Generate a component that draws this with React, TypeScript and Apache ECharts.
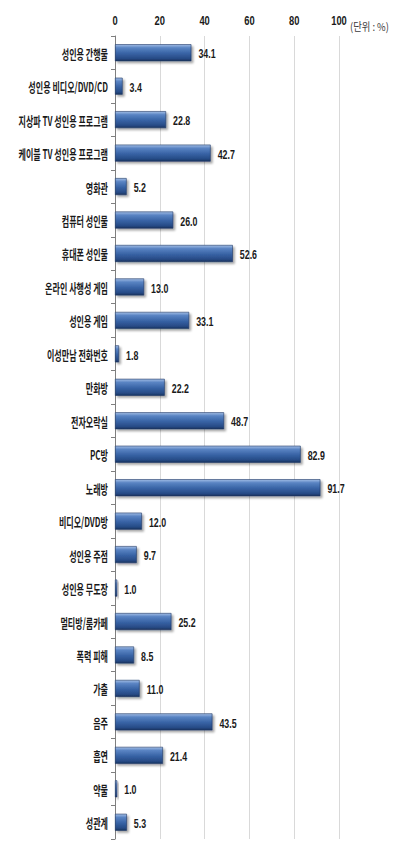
import React, { useEffect, useRef } from "react";
import * as echarts from "echarts";

const categories: string[] = [
  "성인용 간행물",
  "성인용 비디오/DVD/CD",
  "지상파 TV 성인용 프로그램",
  "케이블 TV 성인용 프로그램",
  "영화관",
  "컴퓨터 성인물",
  "휴대폰 성인물",
  "온라인 사행성 게임",
  "성인용 게임",
  "이성만남 전화번호",
  "만화방",
  "전자오락실",
  "PC방",
  "노래방",
  "비디오/DVD방",
  "성인용 주점",
  "성인용 무도장",
  "멀티방/룸카페",
  "폭력 피해",
  "가출",
  "음주",
  "흡연",
  "약물",
  "성관계",
];

const values: number[] = [
  34.1, 3.4, 22.8, 42.7, 5.2, 26.0, 52.6, 13.0, 33.1, 1.8, 22.2, 48.7, 82.9,
  91.7, 12.0, 9.7, 1.0, 25.2, 8.5, 11.0, 43.5, 21.4, 1.0, 5.3,
];

const tickValues: number[] = [0, 20, 40, 60, 80, 100];

const xMin = 0;
const xMax = 100;
const xInterval = 20;
const unitLabel = "(단위 : %)";

const LAT = '"Liberation Sans", Arial, sans-serif';
const KR = '"Noto Sans CJK KR", sans-serif';

export default function App() {
  const ref = useRef<HTMLDivElement>(null);

  useEffect(() => {
    document.body.style.margin = "0";
    if (!ref.current) return;
    const chart = echarts.init(ref.current, undefined, { renderer: "svg" });

    const barGradient = new echarts.graphic.LinearGradient(0, 0, 0, 1, [
      { offset: 0, color: "#A3BEE6" },
      { offset: 0.2, color: "#5A84C3" },
      { offset: 0.55, color: "#3762A4" },
      { offset: 0.85, color: "#274B86" },
      { offset: 1, color: "#19335E" },
    ]);

    chart.setOption({
      animation: false,
      backgroundColor: "#FFFFFF",
      grid: { left: 115, right: 58, top: 36, height: 803, containLabel: false },
      xAxis: {
        type: "value",
        position: "top",
        min: xMin,
        max: xMax,
        interval: xInterval,
        axisLine: { show: false },
        axisTick: { show: false },
        axisLabel: { show: false },
        splitLine: { show: true, lineStyle: { color: "#D9D9D9", width: 1 } },
      },
      yAxis: {
        type: "category",
        data: categories,
        inverse: true,
        axisLine: { show: true, lineStyle: { color: "#7F7F7F", width: 1 } },
        axisTick: { show: true, inside: false, length: 4, lineStyle: { color: "#7F7F7F" } },
        axisLabel: { show: false },
        splitLine: { show: false },
      },
      graphic: [
        {
          type: "text",
          left: 350,
          top: 21,
          scaleX: 0.85,
          style: {
            text: unitLabel,
            fill: "#3A3A3A",
            fontFamily: KR,
            fontSize: 11,
          },
        },
      ],
      series: [
        {
          type: "bar",
          data: values,
          barWidth: 17,
          itemStyle: {
            color: barGradient,
            borderColor: "#1F3864",
            borderWidth: 0.6,
            shadowColor: "rgba(0,0,0,0.35)",
            shadowBlur: 2,
            shadowOffsetX: 2,
            shadowOffsetY: 2,
          },
          label: { show: false },
          z: 3,
        },
        {
          // x-axis tick labels (condensed), placed by the value scale
          type: "custom",
          silent: true,
          clip: false,
          data: tickValues.map((v) => [v, 0]),
          encode: { x: 0, y: 1 },
          renderItem: (params: any, api: any) => {
            const pt = api.coord([api.value(0), 0]);
            return {
              type: "text",
              x: pt[0],
              y: params.coordSys.y - 16,
              scaleX: 0.72,
              style: {
                text: String(tickValues[params.dataIndex]),
                fill: "#1A1A1A",
                fontFamily: LAT,
                fontWeight: "bold",
                fontSize: 13,
                align: "center",
                verticalAlign: "middle",
              },
            };
          },
          z: 4,
        },
        {
          // value labels
          type: "custom",
          silent: true,
          clip: false,
          data: values.map((v, i) => [v, i]),
          encode: { x: 0, y: 1 },
          renderItem: (params: any, api: any) => {
            const pt = api.coord([api.value(0), api.value(1)]);
            return {
              type: "text",
              x: pt[0] + 7,
              y: pt[1] + 1,
              scaleX: 0.68,
              style: {
                text: Number(values[params.dataIndex]).toFixed(1),
                fill: "#1A1A1A",
                fontFamily: LAT,
                fontWeight: "bold",
                fontSize: 13,
                align: "left",
                verticalAlign: "middle",
              },
            };
          },
          z: 4,
        },
        {
          // category labels
          type: "custom",
          silent: true,
          clip: false,
          data: categories.map((_, i) => [0, i]),
          encode: { x: 0, y: 1 },
          renderItem: (params: any, api: any) => {
            const pt = api.coord([0, api.value(1)]);
            return {
              type: "text",
              x: pt[0] - 7,
              y: pt[1],
              scaleX: 0.62,
              style: {
                text: categories[params.dataIndex],
                fill: "#1A1A1A",
                fontFamily: KR,
                fontWeight: "bold",
                fontSize: 13,
                align: "right",
                verticalAlign: "middle",
              },
            };
          },
          z: 4,
        },
      ],
    });

    return () => chart.dispose();
  }, []);

  return <div ref={ref} style={{ width: 397, height: 860 }} />;
}
